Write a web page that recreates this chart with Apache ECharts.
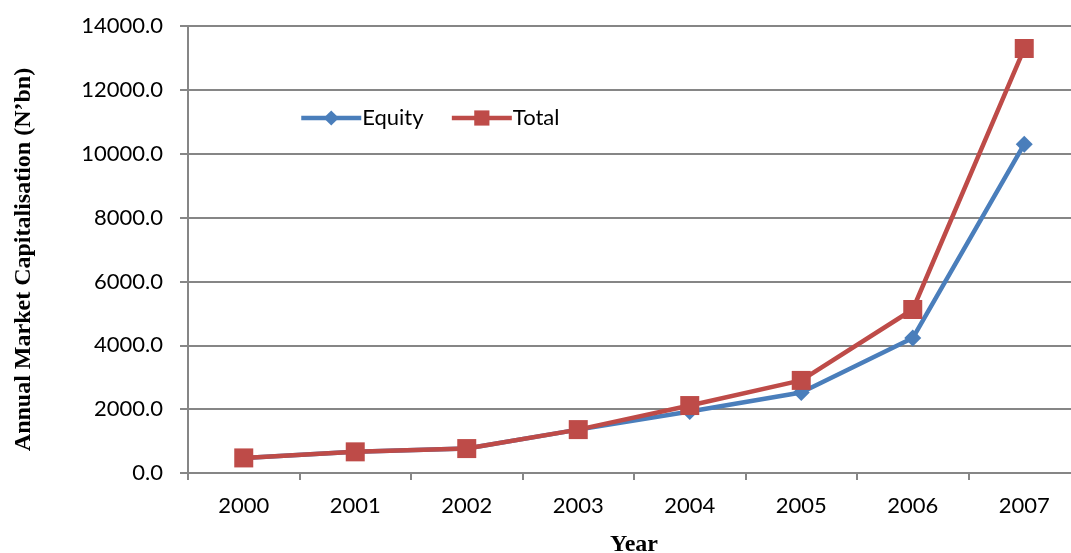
<!DOCTYPE html>
<html><head><meta charset="utf-8">
<script src="https://cdn.jsdelivr.net/npm/echarts@6/dist/echarts.min.js"></script>
<style>html,body{margin:0;padding:0;background:#fff}#c{width:1071px;height:553px}</style>
</head><body><div id="c"></div>
<script>
const years = ['2000','2001','2002','2003','2004','2005','2006','2007'];
const equity = [472.3, 662.5, 764.9, 1359.3, 1925.9, 2523.0, 4227.0, 10300.0];
const total = [472.3, 662.5, 764.9, 1359.3, 2112.5, 2900.1, 5120.9, 13294.6];
const yTitle = 'Annual Market Capitalisation (N’bn)';
const xTitle = 'Year';

const chart = echarts.init(document.getElementById('c'));
const lblFont = 'Lato, "Noto Sans", sans-serif';
chart.setOption({
  animation: false,
  grid: {left: 188, right: -9, top: 26, bottom: 80, containLabel: false, outerBoundsMode: 'none'},
  legend: {
    left: 294, top: 102, itemWidth: 60, itemHeight: 19, itemGap: 26,
    lineStyle: {width: 4.5},
    textStyle: {fontFamily: lblFont, fontSize: 22, color: '#000', padding: [0,0,0,-4]},
    data: ['Equity', 'Total']
  },
  xAxis: {
    type: 'category', data: years, boundaryGap: true,
    name: xTitle, nameLocation: 'middle', nameGap: 60,
    nameTextStyle: {fontFamily: '"Liberation Serif", serif', fontWeight: 'bold', fontSize: 24, color: '#000'},
    axisLine: {lineStyle: {color: '#868686', width: 2}},
    axisTick: {show: true, length: 7, lineStyle: {color: '#868686', width: 2}},
    axisLabel: {fontFamily: lblFont, fontSize: 22, color: '#000', margin: 22}
  },
  yAxis: {
    type: 'value', min: 0, max: 14000, interval: 2000,
    name: yTitle, nameLocation: 'middle', nameGap: 152, nameRotate: 90,
    nameTextStyle: {fontFamily: '"Liberation Serif", serif', fontWeight: 'bold', fontSize: 24, color: '#000', padding: [0, 20, 0, 0]},
    axisLine: {show: true, lineStyle: {color: '#868686', width: 2}},
    axisTick: {show: true, length: 8, lineStyle: {color: '#868686', width: 2}},
    splitLine: {lineStyle: {color: '#868686', width: 2}},
    axisLabel: {fontFamily: lblFont, fontSize: 22, color: '#000', margin: 25,
      formatter: v => v.toFixed(1)}
  },
  series: [
    {name: 'Equity', type: 'line', data: equity, symbol: 'diamond', symbolSize: 17,
     lineStyle: {color: '#4A7EBB', width: 4.5}, itemStyle: {color: '#4A7EBB'}, z: 2},
    {name: 'Total', type: 'line', data: total, symbol: 'rect', symbolSize: 19,
     lineStyle: {color: '#BE4B48', width: 4.5}, itemStyle: {color: '#BE4B48'}, z: 3}
  ]
});
</script></body></html>
